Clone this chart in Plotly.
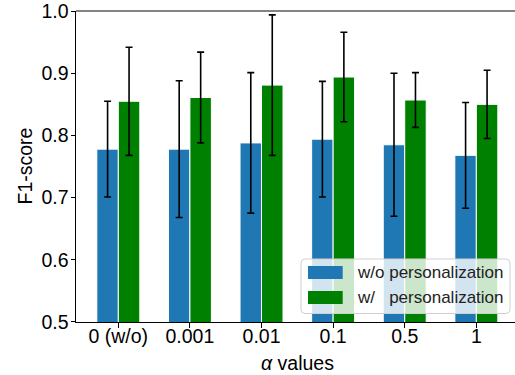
import plotly.graph_objects as go

categories = ["0 (w/o)", "0.001", "0.01", "0.1", "0.5", "1"]
f1_without = [0.778, 0.778, 0.788, 0.794, 0.785, 0.768]
err_without = [0.077, 0.110, 0.113, 0.093, 0.115, 0.085]
f1_with = [0.855, 0.861, 0.881, 0.894, 0.857, 0.850]
err_with = [0.087, 0.073, 0.113, 0.072, 0.044, 0.055]
y_ticks = [0.5, 0.6, 0.7, 0.8, 0.9, 1.0]
series_names = ["w/o personalization", "w/\u00a0\u00a0\u00a0personalization"]
colors = ["#1f77b4", "#008000"]

FONT = "Liberation Sans, Arial, Helvetica, sans-serif"
W, H = 515, 375
L, R, T, B = 76, 515, 11, 322
PW, PH = R - L, B - T


def px(x):
    return (x - L) / PW


def py(y):
    return (B - y) / PH


fig = go.Figure()
for vals, errs, col, off in [(f1_without, err_without, colors[0], -0.3),
                              (f1_with, err_with, colors[1], 0.0)]:
    fig.add_trace(go.Bar(
        x=categories, y=vals, offset=off, width=0.3,
        marker=dict(color=col, line=dict(color="white", width=1)),
        error_y=dict(type="data", array=errs, visible=True, color="black",
                     thickness=1.6, width=3.5),
        showlegend=False, hoverinfo="skip",
    ))

shapes = []
# top spine
shapes.append(dict(type="line", xref="paper", yref="paper", x0=0, x1=1, y0=1, y1=1,
                   line=dict(color="#5a5a5a", width=1.4), layer="above"))
# legend box (rounded)
x0, x1 = px(301), px(510)
yt, yb = py(259), py(313.5)
rx, ry = 4 / PW, 4 / PH
path = (f"M{x0+rx},{yt} L{x1-rx},{yt} Q{x1},{yt} {x1},{yt-ry} L{x1},{yb+ry} "
        f"Q{x1},{yb} {x1-rx},{yb} L{x0+rx},{yb} Q{x0},{yb} {x0},{yb+ry} "
        f"L{x0},{yt-ry} Q{x0},{yt} {x0+rx},{yt} Z")
shapes.append(dict(type="path", xref="paper", yref="paper", path=path,
                   fillcolor="rgba(255,255,255,0.8)", line=dict(color="#d0d0d0", width=1),
                   layer="above"))
annotations = []
for i, (name, col) in enumerate(zip(series_names, colors)):
    top = 266 + i * 25
    shapes.append(dict(type="rect", xref="paper", yref="paper",
                       x0=px(308), x1=px(342.7), y0=py(top + 13), y1=py(top),
                       fillcolor=col, line=dict(width=0), layer="above"))
    annotations.append(dict(xref="paper", yref="paper", x=px(355), y=py(top + 6.5),
                            xanchor="left", yanchor="middle", text=name, showarrow=False,
                            font=dict(family=FONT, size=17, color="#222")))

# axis titles
annotations.append(dict(xref="paper", yref="paper", x=px(297), y=py(363),
                        xanchor="center", yanchor="middle", text="<i>α</i> values",
                        showarrow=False, font=dict(family=FONT, size=19.5, color="black")))
annotations.append(dict(xref="paper", yref="paper", x=px(24), y=py(166.5),
                        xanchor="center", yanchor="middle", text="F1-score", textangle=-90,
                        showarrow=False, font=dict(family=FONT, size=19.5, color="black")))

fig.update_layout(
    width=W, height=H,
    margin=dict(l=L, r=W - R, t=T, b=H - B, autoexpand=False),
    plot_bgcolor="white", paper_bgcolor="white",
    barmode="overlay",
    font=dict(family=FONT, size=19.5, color="black"),
    shapes=shapes, annotations=annotations,
    xaxis=dict(range=[-0.591, 5.54], showline=True, linecolor="black", linewidth=1,
               ticks="outside", ticklen=4.5, tickcolor="black", showgrid=False,
               tickfont=dict(size=19.5), automargin=False, ticklabelstandoff=-8),
    yaxis=dict(range=[0.4999, 1.0002], tickvals=y_ticks, ticktext=[f"{v:.1f}" for v in y_ticks],
               showline=True, linecolor="black", linewidth=1, ticks="outside", ticklen=4.5,
               tickcolor="black", showgrid=False, zeroline=False, ticklabeloverflow="allow",
               tickfont=dict(size=19.5), automargin=False, ticklabelstandoff=-2),
)

fig.write_html("out.html", config={"displayModeBar": False},
               post_script="document.body.style.margin='0px';document.body.style.overflow='hidden';")
